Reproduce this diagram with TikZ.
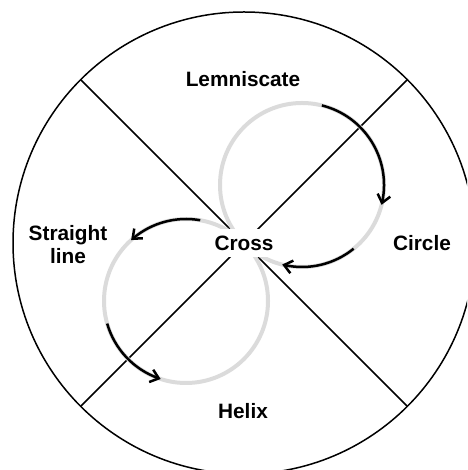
\documentclass[tikz,border=0pt]{standalone}
\usepackage{fontspec}
\setmainfont{Liberation Sans}
\usetikzlibrary{arrows.meta,bending}
\begin{document}
\begin{tikzpicture}[x=1pt,y=1pt,
  outline/.style={draw=black,line width=1.5pt},
  loopline/.style={draw=black!14,line width=4pt},
  flowarrow/.style={draw=black,line width=2.5pt,-{Straight Barb[length=8pt,width=13pt,flex]}},
  lab/.style={font=\fontsize{20.8}{23.5}\selectfont\bfseries,align=center,inner sep=0pt}]
\useasboundingbox (0,0) rectangle (467,470);
\clip (0,0) rectangle (467,470);
\coordinate (O) at (244,227);
\coordinate (U) at (302,285);
\coordinate (L) at (186,169);
\coordinate (d1) at (81,64);
\coordinate (d2) at (407,390);
\coordinate (d3) at (81,390);
\coordinate (d4) at (407,64);
% outer circle and dividers
\draw[outline] (O) circle[radius=231];
\draw[outline] (d1) -- (d2);
\draw[outline] (d3) -- (d4);
% grey loops
\draw[loopline] (U) circle[radius=82];
\draw[loopline] (L) circle[radius=82];
% arrows
\draw[flowarrow] (U) ++(76:82) arc[start angle=76,end angle=-14,radius=82];
\draw[flowarrow] (U) ++(-51:82) arc[start angle=-51,end angle=-104,radius=82];
\draw[flowarrow] (L) ++(80:82) arc[start angle=80,end angle=132,radius=82];
\draw[flowarrow] (L) ++(196:82) arc[start angle=196,end angle=252,radius=82];
% labels
\node[lab,fill=white,inner sep=7pt] (cross) at (O) {Cross};
\node[lab] (lem) at (243,391) {Lemniscate};
\node[lab] (str) at (68,225.5) {Straight\\line};
\node[lab] (cir) at (422,227) {Circle};
\node[lab] (hel) at (243,59) {Helix};
\end{tikzpicture}
\end{document}
